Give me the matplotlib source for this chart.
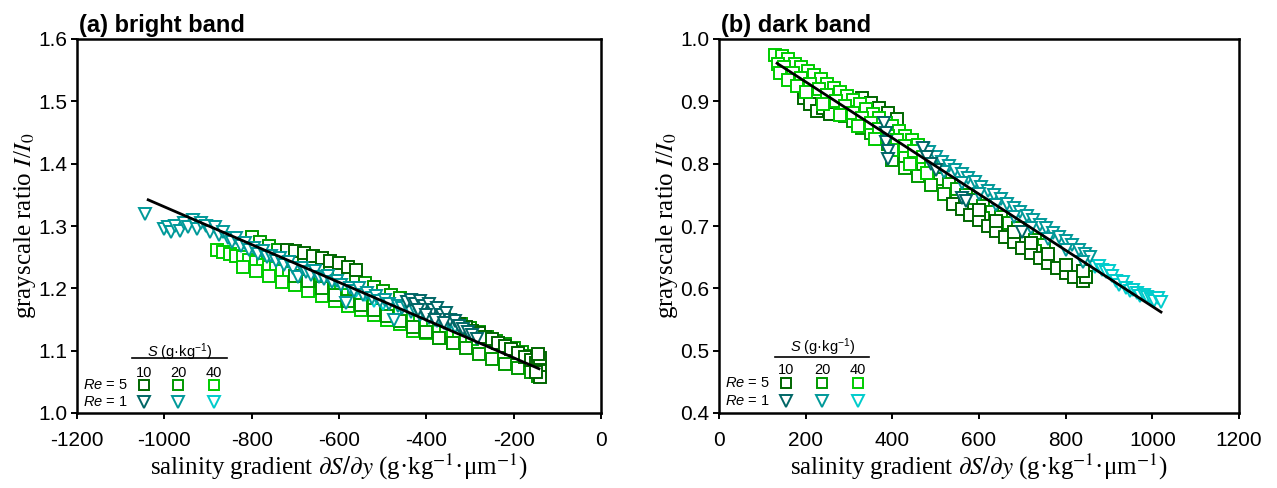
import matplotlib
matplotlib.use("Agg")
import matplotlib.pyplot as plt

plt.rcParams["font.family"] = "Liberation Sans"
plt.rcParams["mathtext.fontset"] = "custom"
plt.rcParams["mathtext.rm"] = "Liberation Sans"
plt.rcParams["mathtext.it"] = "Liberation Sans:italic"
plt.rcParams["mathtext.bf"] = "Liberation Sans:bold"
plt.rcParams["axes.unicode_minus"] = False

# ---------------- data: panel (a) bright band ----------------
a_sq40_x = [-880, -865, -850, -835, -820, -805, -790, -775, -760, -745, -730, -715, -700, -685, -670, -655,
            -640, -625, -610, -595, -580, -565, -550, -535, -520, -505, -490, -475, -460, -445, -430, -415,
            -400, -385, -370, -355, -340, -325, -310, -295,
            -820, -790, -760, -730, -700, -670, -640, -610, -580, -550, -520, -490, -460, -430, -400, -370, -340]
a_sq40_y = [1.262, 1.258, 1.255, 1.252, 1.25, 1.246, 1.243, 1.238, 1.234, 1.232, 1.228, 1.224, 1.22, 1.218, 1.213, 1.21,
            1.206, 1.202, 1.198, 1.195, 1.19, 1.188, 1.184, 1.18, 1.176, 1.172, 1.168, 1.165, 1.16, 1.157, 1.152, 1.15,
            1.145, 1.142, 1.138, 1.134, 1.13, 1.126, 1.122, 1.118,
            1.235, 1.228, 1.22, 1.21, 1.205, 1.195, 1.188, 1.18, 1.172, 1.166, 1.158, 1.15, 1.142, 1.132, 1.128, 1.12, 1.112]

a_sq20_x = [-800, -780, -760, -740, -720, -700, -680, -660, -640, -620, -600, -580, -560, -540, -520, -500, -480, -460,
            -440, -420, -400, -380, -360, -340, -320, -300, -280, -260, -240, -220, -200, -180, -160, -150,
            -700, -670, -640, -610, -580, -550, -520, -490, -460, -430, -400, -370, -340, -310, -280, -250, -220,
            -190, -160, -145]
a_sq20_y = [1.282, 1.275, 1.268, 1.262, 1.258, 1.252, 1.248, 1.24, 1.236, 1.23, 1.224, 1.22, 1.214, 1.208, 1.202, 1.196,
            1.19, 1.184, 1.178, 1.172, 1.166, 1.16, 1.154, 1.148, 1.142, 1.136, 1.13, 1.122, 1.116, 1.11, 1.104, 1.098,
            1.092, 1.088,
            1.22, 1.212, 1.20, 1.19, 1.18, 1.174, 1.165, 1.156, 1.148, 1.138, 1.13, 1.12, 1.112, 1.104, 1.095, 1.086, 1.078,
            1.072, 1.065, 1.06]

a_sq10_x = [-720, -700, -680, -660, -640, -620, -600, -580, -560,
            -340, -325, -310, -295, -280, -265, -250, -235, -220, -205, -190, -175, -160, -150, -145, -140, -140,
            -140, -145, -150]
a_sq10_y = [1.262, 1.26, 1.256, 1.252, 1.248, 1.244, 1.24, 1.235, 1.23,
            1.148, 1.142, 1.138, 1.132, 1.128, 1.122, 1.118, 1.112, 1.108, 1.102, 1.096, 1.09, 1.085, 1.08, 1.075, 1.088,
            1.068, 1.058, 1.095, 1.065]

a_tri10_x = [-445, -435, -425, -415, -405, -395, -385, -375, -365, -355, -345, -335, -325, -315, -305, -295, -285,
             -420, -400, -380, -360]
a_tri10_y = [1.178, 1.182, 1.175, 1.18, 1.172, 1.175, 1.165, 1.168, 1.158, 1.16, 1.15, 1.148, 1.14, 1.135, 1.13, 1.125,
             1.118, 1.165, 1.158, 1.15, 1.145]

a_tri20_x = [-1045, -1000, -992, -985, -975, -965, -955, -945, -935, -925, -915, -905, -895, -885, -875, -865,
             -855, -845, -835, -825, -815, -805, -795, -785, -775, -765, -755, -745, -735, -725, -715, -705,
             -695, -685, -675, -665, -655, -645, -635, -625, -615, -605, -595, -585, -575, -565, -555, -545,
             -535, -525, -515, -505, -495, -485, -475, -465, -455, -445, -435, -425, -415, -405, -395, -385,
             -375, -365, -355, -345, -335, -325]
a_tri20_y = [1.32, 1.295, 1.298, 1.29, 1.30, 1.292, 1.305, 1.298, 1.31, 1.295, 1.305, 1.30, 1.29, 1.298, 1.285, 1.29,
             1.28, 1.275, 1.28, 1.268, 1.272, 1.262, 1.265, 1.255, 1.26, 1.25, 1.252, 1.244, 1.248, 1.238, 1.242, 1.232,
             1.218, 1.232, 1.226, 1.222, 1.228, 1.218, 1.215, 1.22, 1.21, 1.212, 1.205, 1.176, 1.20, 1.196, 1.20, 1.19,
             1.192, 1.185, 1.188, 1.18, 1.182, 1.175, 1.149, 1.172, 1.168, 1.17, 1.162, 1.165, 1.158, 1.16, 1.152, 1.155,
             1.148, 1.15, 1.142, 1.145, 1.138, 1.14]

a_tri40_x = [-560, -540, -520, -500]
a_tri40_y = [1.195, 1.19, 1.18, 1.175]

a_fit_x = [-1037, -142]
a_fit_y = [1.342, 1.071]

# ---------------- data: panel (b) dark band ----------------
b_sq40_x = [130, 145, 160, 175, 190, 205, 220, 235, 250, 265, 280, 295, 310, 325, 340, 355, 370, 385, 400, 415,
            430, 445, 460,
            135, 150, 170, 190, 210, 230, 250, 270, 290, 310, 330, 350, 370, 390, 410, 430, 450, 470, 490,
            140, 160, 180, 200, 240, 280, 320, 360, 400, 440, 480]
b_sq40_y = [0.975, 0.972, 0.968, 0.96, 0.955, 0.948, 0.942, 0.936, 0.928, 0.922, 0.915, 0.908, 0.902, 0.895, 0.888,
            0.88, 0.874, 0.866, 0.86, 0.852, 0.845, 0.838, 0.83,
            0.96, 0.955, 0.945, 0.938, 0.928, 0.92, 0.91, 0.90, 0.892, 0.882, 0.874, 0.865, 0.855, 0.845, 0.838,
            0.828, 0.82, 0.81, 0.80,
            0.945, 0.935, 0.925, 0.915, 0.895, 0.878, 0.86, 0.84, 0.822, 0.80, 0.785]

b_sq20_x = [250, 270, 290, 310, 330, 350, 370, 390, 410, 430, 450, 470, 490, 510, 530, 550, 570, 590, 610, 630,
            650, 670, 690, 710, 730, 750,
            400, 430, 460, 490, 520, 550, 580, 610, 640, 670, 700, 730]
b_sq20_y = [0.894, 0.885, 0.876, 0.868, 0.858, 0.849, 0.84, 0.831, 0.822, 0.813, 0.804, 0.795, 0.786, 0.776, 0.768,
            0.759, 0.75, 0.741, 0.732, 0.723, 0.714, 0.705, 0.696, 0.687, 0.678, 0.669,
            0.806, 0.793, 0.78, 0.766, 0.752, 0.74, 0.726, 0.713, 0.70, 0.686, 0.672, 0.66]

b_sq10_x = [195, 210, 225, 240, 255, 330, 350, 370, 390, 410,
            540, 560, 580, 600, 620, 640, 660, 680, 700, 720, 740, 760, 780, 800, 820, 840, 848,
            600, 640, 680, 720, 760, 800, 840]
b_sq10_y = [0.905, 0.895, 0.885, 0.89, 0.88, 0.905, 0.898, 0.89, 0.882, 0.872,
            0.735, 0.727, 0.718, 0.71, 0.70, 0.692, 0.683, 0.674, 0.665, 0.656, 0.648, 0.64, 0.632, 0.625, 0.618,
            0.612, 0.618,
            0.725, 0.708, 0.69, 0.672, 0.655, 0.638, 0.628]

b_tri10_x = [380, 385, 385, 390, 390, 470, 480, 490, 500, 560, 570, 700]
b_tri10_y = [0.865, 0.85, 0.835, 0.82, 0.808, 0.825, 0.81, 0.80, 0.79, 0.745, 0.74, 0.69]

b_tri20_x = [470, 485, 500, 515, 530, 545, 560, 575, 590, 605, 620, 635, 650, 665, 680, 695, 710, 725, 740,
             755, 770, 785, 800, 815, 830, 845, 855,
             520, 560, 600, 640, 680, 720, 760, 800, 840]
b_tri20_y = [0.824, 0.818, 0.81, 0.803, 0.797, 0.79, 0.783, 0.777, 0.77, 0.763, 0.756, 0.75, 0.743, 0.736, 0.729,
             0.723, 0.716, 0.709, 0.702, 0.696, 0.689, 0.682, 0.676, 0.669, 0.662, 0.655, 0.65,
             0.787, 0.769, 0.751, 0.733, 0.715, 0.697, 0.679, 0.661, 0.643]

b_tri40_x = [868, 876, 884, 892, 900, 908, 916, 924, 932, 940, 948, 956, 964, 972, 980, 988, 996, 1004, 1012, 1020]
b_tri40_y = [0.634, 0.636, 0.63, 0.626, 0.628, 0.62, 0.612, 0.605, 0.61, 0.60, 0.596, 0.598, 0.593, 0.588, 0.59,
             0.586, 0.583, 0.58, 0.584, 0.578]

b_fit_x = [134, 1020]
b_fit_y = [0.961, 0.562]

# legend categories
salinities = ["10", "20", "40"]
sq_colors = ["#006600", "#009900", "#00cc00"]
tri_colors = ["#006666", "#009999", "#00cccc"]

W, H = 1277, 488
fig = plt.figure(figsize=(W / 100, H / 100), dpi=100)
axA = fig.add_axes([77 / W, (H - 413) / H, 524 / W, 374 / H])
axB = fig.add_axes([719 / W, (H - 413) / H, 520 / W, 374 / H])

SQ_MS = 8.5
TRI_MS = 9.0
MEW = 1.4


def scat(ax, x, y, marker, color, ms):
    ax.plot(x, y, linestyle="none", marker=marker, markersize=ms, markerfacecolor="white",
            markeredgecolor=color, markeredgewidth=MEW)


# panel a
scat(axA, a_sq40_x, a_sq40_y, "s", sq_colors[2], SQ_MS)
scat(axA, a_sq20_x, a_sq20_y, "s", sq_colors[1], SQ_MS)
scat(axA, a_sq10_x, a_sq10_y, "s", sq_colors[0], SQ_MS)
scat(axA, a_tri40_x, a_tri40_y, "v", tri_colors[2], TRI_MS)
scat(axA, a_tri20_x, a_tri20_y, "v", tri_colors[1], TRI_MS)
scat(axA, a_tri10_x, a_tri10_y, "v", tri_colors[0], TRI_MS)
axA.plot(a_fit_x, a_fit_y, color="black", lw=2.0)

# panel b
scat(axB, b_sq20_x, b_sq20_y, "s", sq_colors[1], SQ_MS)
scat(axB, b_sq10_x, b_sq10_y, "s", sq_colors[0], SQ_MS)
scat(axB, b_sq40_x, b_sq40_y, "s", sq_colors[2], SQ_MS)
scat(axB, b_tri40_x, b_tri40_y, "v", tri_colors[2], TRI_MS)
scat(axB, b_tri20_x, b_tri20_y, "v", tri_colors[1], TRI_MS)
scat(axB, b_tri10_x, b_tri10_y, "v", tri_colors[0], TRI_MS)
axB.plot(b_fit_x, b_fit_y, color="black", lw=2.0)

axA.set_xlim(-1200, 0)
axA.set_ylim(1.0, 1.6)
axA.set_xticks(range(-1200, 1, 200))
axA.set_yticks([1.0, 1.1, 1.2, 1.3, 1.4, 1.5, 1.6])
axA.set_yticklabels(["1.0", "1.1", "1.2", "1.3", "1.4", "1.5", "1.6"])

axB.set_xlim(0, 1200)
axB.set_ylim(0.4, 1.0)
axB.set_xticks(range(0, 1201, 200))
axB.set_yticks([0.4, 0.5, 0.6, 0.7, 0.8, 0.9, 1.0])
axB.set_yticklabels(["0.4", "0.5", "0.6", "0.7", "0.8", "0.9", "1.0"])

xlab = r"salinity gradient $\partial S/\partial y$ (g·kg$^{\mathrm{-1}}$·μm$^{\mathrm{-1}}$)"
ylab = r"grayscale ratio $I$/$I_{\mathrm{0}}$"

for ax, title in ((axA, "(a) bright band"), (axB, "(b) dark band")):
    for sp in ax.spines.values():
        sp.set_linewidth(1.8)
    ax.tick_params(direction="out", length=4, width=1.4, labelsize=15, top=False, right=False)
    ax.tick_params(axis="x", pad=9)
    ax.tick_params(axis="y", pad=3)
    ax.set_xlabel(xlab, fontsize=18, fontfamily="Liberation Serif", math_fontfamily="stix", labelpad=1)
    ax.set_ylabel(ylab, fontsize=18, fontfamily="Liberation Serif", math_fontfamily="stix", labelpad=0)
    ax.text(0.004, 1.018, title, transform=ax.transAxes, fontsize=17, fontweight="bold",
            ha="left", va="baseline")

# in-plot legends
legend_pos = {
    axA: dict(head=(0.195, 0.163), line=(0.105, 0.286, 0.147), cols=(0.128, 0.193, 0.262),
              coly=0.108, row5=0.075, row1=0.030, textx=0.097),
    axB: dict(head=(0.200, 0.176), line=(0.108, 0.288, 0.150), cols=(0.129, 0.198, 0.267),
              coly=0.115, row5=0.080, row1=0.032, textx=0.098),
}
for ax, p in legend_pos.items():
    ax.text(p["head"][0], p["head"][1], r"$S$ (g·kg$^{\mathrm{-1}}$)", transform=ax.transAxes,
            fontsize=10.5, ha="center", va="center")
    ax.plot([p["line"][0], p["line"][1]], [p["line"][2], p["line"][2]], transform=ax.transAxes,
            color="black", lw=1.2, clip_on=False)
    for i, s in enumerate(salinities):
        cx = p["cols"][i]
        ax.text(cx, p["coly"], s, transform=ax.transAxes, fontsize=10.5, ha="center", va="center")
        ax.plot([cx], [p["row5"]], transform=ax.transAxes, marker="s", markersize=7.5,
                markerfacecolor="white", markeredgecolor=sq_colors[i], markeredgewidth=1.4,
                linestyle="none", clip_on=False)
        ax.plot([cx], [p["row1"]], transform=ax.transAxes, marker="v", markersize=8,
                markerfacecolor="white", markeredgecolor=tri_colors[i], markeredgewidth=1.4,
                linestyle="none", clip_on=False)
    ax.text(p["textx"], p["row5"], r"$Re$ = 5", transform=ax.transAxes, fontsize=10.5,
            ha="right", va="center")
    ax.text(p["textx"], p["row1"], r"$Re$ = 1", transform=ax.transAxes, fontsize=10.5,
            ha="right", va="center")

fig.savefig("out.png", dpi=100)
